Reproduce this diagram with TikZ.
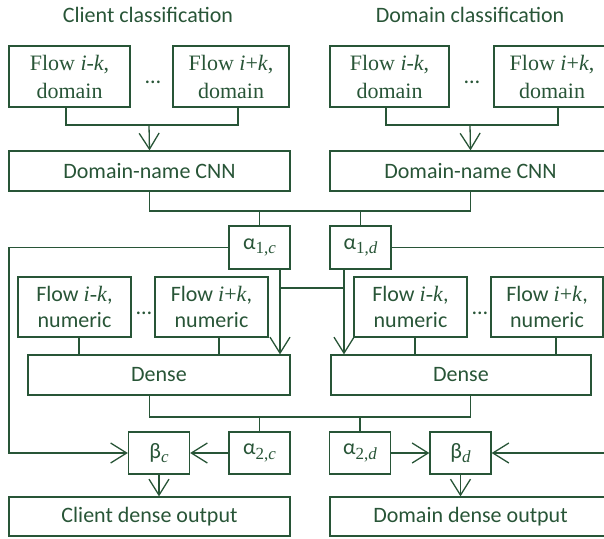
\documentclass[tikz,border=0pt]{standalone}
\usepackage{fontspec}
\setmainfont{Liberation Serif}
\setsansfont{Carlito}
\usetikzlibrary{arrows.meta}
\definecolor{dkgreen}{RGB}{40,85,55}
\providecommand{\tsub}[1]{\raisebox{-0.45ex}{\fontsize{8.5}{9}\selectfont\rmfamily #1}}
\providecommand{\flowtxt}[1]{Flow {\rmfamily #1},}
\providecommand{\domtxt}[1]{\rmfamily Flow #1,\\\rmfamily domain}

\begin{document}
\begin{tikzpicture}[x=0.5pt,y=-0.5pt,
    every node/.style={text=dkgreen, font=\sffamily\fontsize{11}{13}\selectfont},
    box/.style={draw=dkgreen, line width=0.65pt, inner sep=0pt, align=center},
    dombox/.style={box, minimum height=30.5pt, font=\rmfamily\fontsize{11}{14}\selectfont},
    numbox/.style={box, minimum height=30pt},
    widebox/.style={box, minimum width=140.5pt, minimum height=20pt},
    smallbox/.style={box, minimum width=30.5pt, minimum height=21.5pt},
    wire/.style={draw=dkgreen, line width=0.65pt},
    arr/.style={wire, -{Straight Barb[length=8pt,width=10pt]}}]
    \useasboundingbox (0,0) rectangle (604,538);
    % titles
    \node (tc) at (148,15) {Client classification};
    \node (td) at (470,15) {Domain classification};
    % domain-name inputs
    \node[dombox, minimum width=60.5pt] (fd1) at (69.5,76.5) {\domtxt{\textit{i}-\textit{k}}};
    \node[dombox, minimum width=58pt] (fd2) at (231,76.5) {\domtxt{\textit{i}+\textit{k}}};
    \node[dombox, minimum width=59.5pt] (fd3) at (389.5,76.5) {\domtxt{\textit{i}-\textit{k}}};
    \node[dombox, minimum width=58pt] (fd4) at (552,76.5) {\domtxt{\textit{i}+\textit{k}}};
    \node[inner sep=0pt] (dd1) at (153,82) {\dots};
    \node[inner sep=0pt] (dd2) at (472,82) {\dots};
    \node[widebox] (cnn1) at (149.5,171) {Domain-name CNN};
    \node[widebox] (cnn2) at (470.5,171) {Domain-name CNN};
    \coordinate (m1) at (149,125);
    \coordinate (m2) at (470,125);
    \draw[wire] ([xshift=-1.75pt]fd1.south) |- (m1) -| ([xshift=3.5pt]fd2.south);
    \draw[wire] ([xshift=-1.75pt]fd3.south) |- (m2) -| ([xshift=3pt]fd4.south);
    \draw[arr] (m1) -- (cnn1.north);
    \draw[arr] (m2) -- (cnn2.north);
    % first weights
    \node[smallbox] (a1c) at (259.5,247.5) {α\tsub{1,\textit{c}}};
    \node[smallbox] (a1d) at (360.5,247.5) {α\tsub{1,\textit{d}}};
    \coordinate (j1) at (310,211);
    \draw[wire] (cnn1.south) |- (j1) -| (cnn2.south);
    \draw[wire] (a1c.north) -- (a1c.north |- j1);
    \draw[wire] (a1d.north) -- (a1d.north |- j1);
    % numeric inputs
    \node[numbox, minimum width=56.5pt] (num1) at (74.5,307) {\flowtxt{\textit{i}-\textit{k}}\\numeric};
    \node[numbox, minimum width=56.5pt] (num2) at (211.5,307) {\flowtxt{\textit{i}+\textit{k}}\\numeric};
    \node[numbox, minimum width=56.5pt] (num3) at (410.5,307) {\flowtxt{\textit{i}-\textit{k}}\\numeric};
    \node[numbox, minimum width=56pt] (num4) at (547,307) {\flowtxt{\textit{i}+\textit{k}}\\numeric};
    \node[inner sep=0pt] (dn1) at (144,313) {\dots};
    \node[inner sep=0pt] (dn2) at (480,313) {\dots};
    \node[box, minimum width=131pt, minimum height=20pt] (dense1) at (159,375) {Dense};
    \node[box, minimum width=130pt, minimum height=20pt] (dense2) at (461,375) {Dense};
    \foreach \n/\d/\s in {num1/dense1/2.25pt, num2/dense1/3.75pt, num3/dense2/2.25pt, num4/dense2/4.5pt}
        \draw[wire] ([xshift=\s]\n.south) -- ([xshift=\s]\n.south |- \d.north);
    \coordinate (k1) at (280,288);
    \coordinate (k2) at (344,288);
    \draw[arr] (a1c.south -| k1) -- (k1 |- dense1.north);
    \draw[arr] (a1d.south -| k2) -- (k2 |- dense2.north);
    \draw[wire] (k1) -- (k2);
    % second weights and gates
    \node[smallbox, minimum height=21pt] (a2c) at (259.5,453) {α\tsub{2,\textit{c}}};
    \node[smallbox, minimum height=21pt] (a2d) at (360,453) {α\tsub{2,\textit{d}}};
    \node[smallbox, minimum height=21pt] (bc) at (159,453) {β\tsub{\textit{c}}};
    \node[smallbox, minimum height=21pt] (bd) at (460.5,453) {β\tsub{\textit{d}}};
    \coordinate (j2) at (310,417);
    \draw[wire] (dense1.south -| cnn1.south) |- (j2) -| (dense2.south -| cnn2.south);
    \draw[wire] (a2c.north) -- (a2c.north |- j2);
    \draw[wire] (a2d.north) -- (a2d.north |- j2);
    \draw[arr] (a2c) -- (bc);
    \draw[arr] (a2d) -- (bd);
    \coordinate (cl) at (9,453);
    \coordinate (cr) at (615,453);
    \draw[arr] (a1c.west) -| (cl) -- (bc.west);
    \draw[arr] (a1d.east) -| (cr) -- (bd.east);
    % outputs
    \node[widebox, minimum height=19.5pt] (oc) at (149.5,516.5) {Client dense output};
    \node[widebox, minimum height=19.5pt] (od) at (470.5,516.5) {Domain dense output};
    \draw[arr] (bc.south) -- (bc.south |- oc.north);
    \draw[arr] (bd.south) -- (bd.south |- od.north);
\end{tikzpicture}
\end{document}
